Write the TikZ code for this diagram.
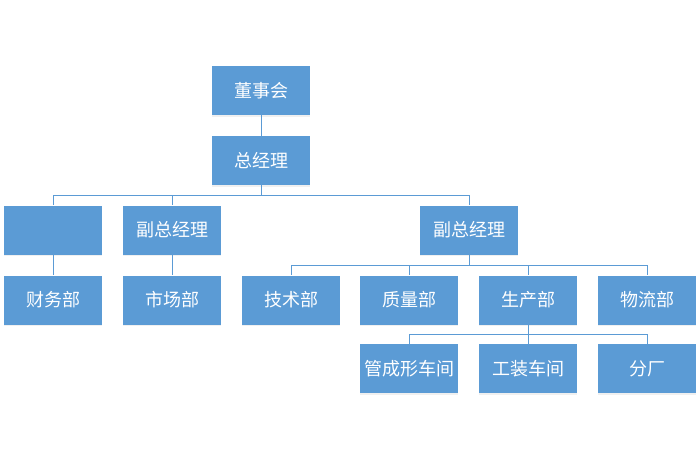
\documentclass[tikz,border=0pt]{standalone}
\usepackage{fontspec}
\setmainfont{Noto Sans CJK SC}
\usepackage{tikz}
\usetikzlibrary{positioning, shadows}
\definecolor{orgblue}{RGB}{91, 155, 213}

\begin{document}
\begin{tikzpicture}[
  x=1pt, y=-1pt,
  box/.style={fill=orgblue, text=white, minimum width=98pt, minimum height=49pt, inner sep=0pt,
    font=\fontsize{18pt}{18pt}\selectfont, drop shadow={opacity=0.12, shadow xshift=0pt, shadow yshift=-1.5pt}},
  link/.style={draw=orgblue, line width=1pt}
]
  \useasboundingbox (0,0) rectangle (700,460);

  % Top levels
  \node[box] (dsh) at (261, 90.5) {董事会};
  \node[box] (zjl) at (261, 160.5) {总经理};

  % Second row
  \node[box] (blank) at (53, 230) {};
  \node[box] (vpa) at (172, 230) {副总经理};
  \node[box] (vpb) at (469, 230) {副总经理};

  % Departments
  \node[box] (cwb) at (53, 300) {财务部};
  \node[box] (scb) at (172, 300) {市场部};
  \node[box] (jsb) at (291, 300) {技术部};
  \node[box] (zlb) at (409, 300) {质量部};
  \node[box] (sczb) at (528, 300) {生产部};
  \node[box] (wlb) at (647, 300) {物流部};

  % Workshops
  \node[box] (gcx) at (409, 368.5) {管成形车间};
  \node[box] (gzcj) at (528, 368.5) {工装车间};
  \node[box] (fc) at (647, 368.5) {分厂};

  % Connectors
  \draw[link] (dsh) -- (zjl);
  \foreach \c in {blank, vpa, vpb}
    \draw[link] (zjl.south) -- ++(0,10) -| (\c.north);
  \draw[link] (blank) -- (cwb);
  \draw[link] (vpa) -- (scb);
  \foreach \c in {jsb, zlb, sczb, wlb}
    \draw[link] (vpb.south) -- ++(0,11) -| (\c.north);
  \foreach \c in {gcx, gzcj, fc}
    \draw[link] (sczb.south) -- ++(0,10) -| (\c.north);
\end{tikzpicture}
\end{document}
